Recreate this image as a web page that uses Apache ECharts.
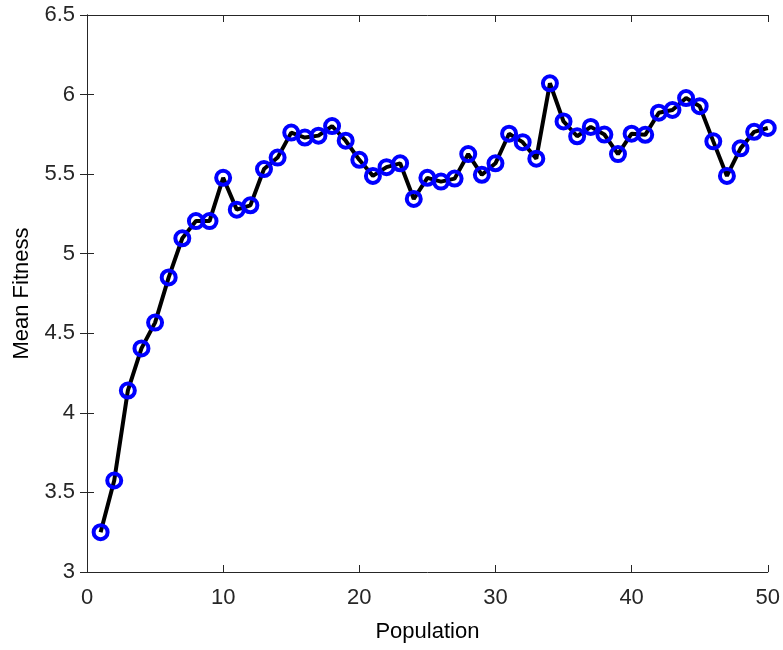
<!DOCTYPE html>
<html>
<head>
<meta charset="utf-8">
<script src="https://cdn.jsdelivr.net/npm/echarts@6/dist/echarts.min.js"></script>
<style>
  html, body { margin: 0; padding: 0; background: #fff; }
  #main { width: 783px; height: 650px; }
</style>
</head>
<body>
<div id="main"></div>
<script>
// population index and mean fitness
var population = [1, 2, 3, 4, 5, 6, 7, 8, 9, 10,
  11, 12, 13, 14, 15, 16, 17, 18, 19, 20,
  21, 22, 23, 24, 25, 26, 27, 28, 29, 30,
  31, 32, 33, 34, 35, 36, 37, 38, 39, 40,
  41, 42, 43, 44, 45, 46, 47, 48, 49, 50];
var meanFitness = [3.25, 3.575, 4.14, 4.405, 4.567, 4.851, 5.097, 5.205, 5.205, 5.477,
  5.277, 5.304, 5.532, 5.604, 5.761, 5.73, 5.742, 5.802, 5.71, 5.59,
  5.489, 5.544, 5.568, 5.344, 5.477, 5.453, 5.472, 5.626, 5.496, 5.568,
  5.754, 5.701, 5.597, 6.071, 5.831, 5.738, 5.797, 5.749, 5.626, 5.754,
  5.747, 5.886, 5.903, 5.978, 5.927, 5.706, 5.489, 5.662, 5.766, 5.79];

var points = population.map(function (p, i) { return [p, meanFitness[i]]; });

var axisColor = '#262626';
var font = 'Liberation Sans, Arial, sans-serif';

var chartDom = document.getElementById('main');
var myChart = echarts.init(chartDom);

var option = {
  animation: false,
  backgroundColor: '#fff',
  grid: { left: 87, right: 14, top: 15, bottom: 78 },
  xAxis: [
    {
      type: 'value', min: 0, max: 50, interval: 10,
      name: 'Population', nameLocation: 'middle', nameGap: 49,
      nameTextStyle: { color: '#000', fontSize: 22, fontFamily: font },
      axisLine: { lineStyle: { color: axisColor, width: 1 } },
      axisTick: { inside: true, length: 7, lineStyle: { color: axisColor } },
      axisLabel: { color: axisColor, fontSize: 22, fontFamily: font, margin: 15 },
      splitLine: { show: false }
    },
    {
      type: 'value', min: 0, max: 50, interval: 10, position: 'top',
      axisLine: { lineStyle: { color: axisColor, width: 1 } },
      axisTick: { inside: true, length: 7, lineStyle: { color: axisColor } },
      axisLabel: { show: false },
      splitLine: { show: false }
    }
  ],
  yAxis: [
    {
      type: 'value', min: 3, max: 6.5, interval: 0.5,
      name: 'Mean Fitness', nameLocation: 'middle', nameGap: 54,
      nameTextStyle: { color: '#000', fontSize: 22, fontFamily: font },
      axisLine: { show: true, lineStyle: { color: axisColor, width: 1 } },
      axisTick: { show: true, inside: true, length: 7, lineStyle: { color: axisColor } },
      axisLabel: { color: axisColor, fontSize: 22, fontFamily: font, margin: 12 },
      splitLine: { show: false }
    },
    {
      type: 'value', min: 3, max: 6.5, interval: 0.5, position: 'right',
      axisLine: { show: true, lineStyle: { color: axisColor, width: 1 } },
      axisTick: { show: true, inside: true, length: 7, lineStyle: { color: axisColor } },
      axisLabel: { show: false },
      splitLine: { show: false }
    }
  ],
  series: [
    {
      name: 'Mean Fitness',
      type: 'line',
      data: points,
      lineStyle: { color: '#000', width: 4 },
      symbol: 'circle',
      symbolSize: 14,
      showAllSymbol: true,
      itemStyle: { color: 'rgba(0,0,0,0)', borderColor: '#0000ff', borderWidth: 4 }
    }
  ]
};

option && myChart.setOption(option);
</script>
</body>
</html>
